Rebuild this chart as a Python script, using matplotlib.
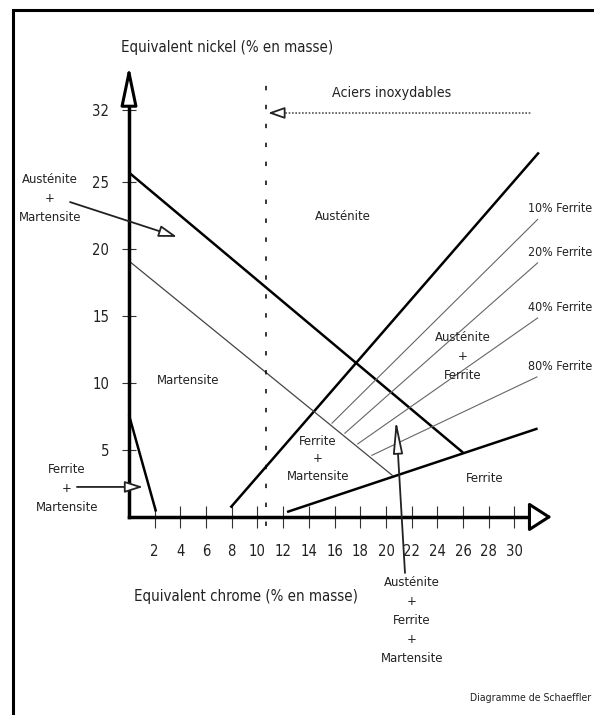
import matplotlib
matplotlib.use("Agg")
import matplotlib.pyplot as plt
from matplotlib.patches import Rectangle

# Schaeffler diagram: Cr equivalent (x) vs Ni equivalent (y), % en masse
cr_ticks = [2, 4, 6, 8, 10, 12, 14, 16, 18, 20, 22, 24, 26, 28, 30]
ni_tick_pos = [5, 10, 15, 20, 25, 30.4]
ni_tick_labels = ["5", "10", "15", "20", "25", "32"]

# phase boundaries (thick)
aust_cr = [0, 26.0]
aust_ni = [25.7, 4.8]
ferr_up_cr = [7.9, 31.9]
ferr_up_ni = [0.7, 27.2]
ferr_low_cr = [12.3, 31.8]
ferr_low_ni = [0.37, 6.6]
fm_cr = [0, 2.1]
fm_ni = [7.6, 0.4]
# martensite limit (thin)
mart_cr = [0, 20.5]
mart_ni = [19.1, 3.1]
# iso-ferrite lines
pct_labels = ["10% Ferrite", "20% Ferrite", "40% Ferrite", "80% Ferrite"]
pct_start_cr = [15.8, 16.8, 17.8, 18.9]
pct_start_ni = [7.0, 6.25, 5.45, 4.6]
pct_end_cr = [31.8, 31.8, 31.8, 31.75]
pct_end_ni = [22.2, 18.96, 14.85, 10.45]
stainless_cr = 10.7

plt.rcParams["font.family"] = ["DejaVu Sans"]
plt.rcParams["font.stretch"] = "condensed"
TXT = "#222222"
FS_TITLE = 10.8
FS_TICK = 10.6
FS_LAB = 9.4

fig = plt.figure(figsize=(5.94, 7.15), dpi=100)
ax = fig.add_axes([0, 0, 1, 1])
ax.set_xlim(-10.04, 36.19)
ax.set_ylim(-14.78, 38.58)
ax.set_facecolor("white")

for s in ["top", "right"]:
    ax.spines[s].set_visible(False)
ax.spines["left"].set_position(("data", 0))
ax.spines["bottom"].set_position(("data", 0))
ax.spines["left"].set_bounds(0, 31.0)
ax.spines["bottom"].set_bounds(0, 31.2)
for s in ["left", "bottom"]:
    ax.spines[s].set_linewidth(2.5)
    ax.spines[s].set_capstyle("projecting")

ax.set_xticks(cr_ticks, [str(t) for t in cr_ticks])
ax.set_yticks(ni_tick_pos, ni_tick_labels)
ax.tick_params(axis="x", direction="inout", length=16.5, width=0.8, color="#333333",
               pad=11.5, labelsize=FS_TICK, labelcolor=TXT)
ax.tick_params(axis="y", direction="inout", length=9.4, width=0.8, color="#333333",
               pad=9.5, labelsize=FS_TICK, labelcolor=TXT)

# axis arrow heads
ax.annotate("", xy=(0, 33.7), xytext=(0, 30.8),
            arrowprops=dict(arrowstyle="-|>,head_length=2.4,head_width=0.5",
                            fc="white", ec="black", lw=2.2, shrinkA=0, shrinkB=0))
ax.annotate("", xy=(32.9, 0), xytext=(31.2, 0),
            arrowprops=dict(arrowstyle="-|>,head_length=1.4,head_width=0.9",
                            fc="white", ec="black", lw=2.2, shrinkA=0, shrinkB=0))

# boundaries
thick = dict(color="black", lw=1.8, solid_capstyle="butt")
ax.plot(aust_cr, aust_ni, **thick)
ax.plot(ferr_up_cr, ferr_up_ni, **thick)
ax.plot(ferr_low_cr, ferr_low_ni, **thick)
ax.plot(fm_cr, fm_ni, **thick)
ax.plot(mart_cr, mart_ni, color="#444444", lw=0.9)
for i in range(len(pct_labels)):
    ax.plot([pct_start_cr[i], pct_end_cr[i]], [pct_start_ni[i], pct_end_ni[i]],
            color="#666666", lw=0.8)

# stainless steel limit
ax.plot([stainless_cr, stainless_cr], [-0.7, 33.0], color="black", lw=1.1,
        linestyle=(0, (2.9, 9.5)))
ax.plot([11.9, 31.36], [30.15, 30.15], color="#555555", lw=1.2, linestyle=(0, (1, 1)))
ax.annotate("", xy=(10.82, 30.15), xytext=(12.0, 30.15),
            arrowprops=dict(arrowstyle="-|>,head_length=1.0,head_width=0.35",
                            fc="white", ec="#222222", lw=1.3, shrinkA=0, shrinkB=0))

ax.text(7.63, 35.07, "Equivalent nickel (% en masse)", color=TXT, fontsize=FS_TITLE,
        ha="center", va="center")
ax.text(0.39, -5.97, "Equivalent chrome (% en masse)", color=TXT, fontsize=FS_TITLE,
        ha="left", va="center")
ax.text(20.47, 31.64, "Aciers inoxydables", color=TXT, fontsize=10.2,
        ha="center", va="center")

txt = dict(color=TXT, fontsize=FS_LAB, ha="center", va="center", linespacing=1.6)
ax.text(16.65, 22.39, "Austénite", **txt)
ax.text(4.59, 10.22, "Martensite", **txt)
ax.text(14.71, 4.33, "Ferrite\n+\nMartensite", color=TXT, fontsize=FS_LAB,
        ha="center", va="center", linespacing=1.47)
ax.text(26.0, 12.0, "Austénite\n+\nFerrite", **txt)
ax.text(27.7, 2.9, "Ferrite", **txt)
for i, lab in enumerate(pct_labels):
    ax.text(31.05, pct_end_ni[i] + 0.8, lab, color=TXT, fontsize=8.9, ha="left",
            va="center")

# labels pointing into the diagram
arrow_small = dict(arrowstyle="-|>,head_length=1.1,head_width=0.35",
                   fc="white", ec="#222222", lw=1.3, shrinkA=0, shrinkB=0)
ax.text(-6.15, 23.8, "Austénite\n+\nMartensite", **txt)
ax.annotate("", xy=(3.74, 20.9), xytext=(-4.59, 23.5), arrowprops=arrow_small)
ax.text(-4.82, 2.16, "Ferrite\n+\nMartensite", **txt)
ax.annotate("", xy=(1.09, 2.24), xytext=(-4.05, 2.24), arrowprops=arrow_small)
ax.text(22.02, -7.76, "Austénite\n+\nFerrite\n+\nMartensite", **txt)
ax.annotate("", xy=(20.78, 7.24), xytext=(21.48, -4.18),
            arrowprops=dict(arrowstyle="-|>,head_length=2.0,head_width=0.3",
                            fc="white", ec="#222222", lw=1.3, shrinkA=0, shrinkB=0))

ax.text(26.55, -13.5, "Diagramme de Schaeffler", color=TXT, fontsize=7.6, ha="left",
        va="center")

# outer frame
fig.patches.append(Rectangle((12.5 / 594, -0.1), 1.2, 1.1 - 10 / 715, fill=False,
                             lw=2.2, ec="black", transform=fig.transFigure))

fig.savefig("out.png", dpi=100)
